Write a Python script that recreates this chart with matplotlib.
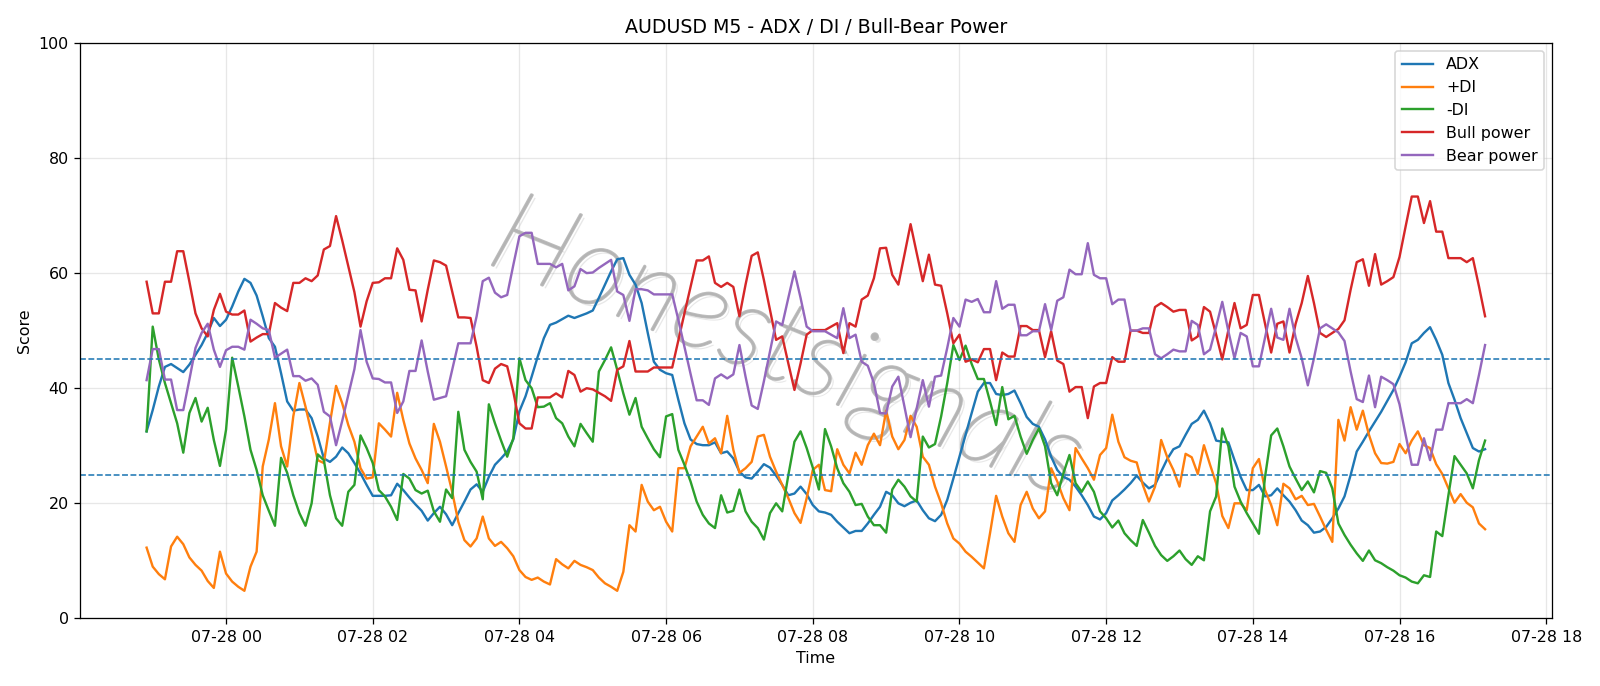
import matplotlib
matplotlib.use("Agg")
import matplotlib.pyplot as plt
import matplotlib.dates as mdates
import matplotlib.patheffects as pe
import pandas as pd
import numpy as np

start_time = "2025-07-27 22:55"
n_bars = 220

adx = [32.5, 36.2, 40.3, 43.7, 44.2, 43.5, 42.8, 44.1, 45.8, 47.5, 49.6, 52.2, 50.8, 51.9, 54.2, 56.8, 59, 58.3, 56.1, 52.5, 48.7, 47.2, 42.6, 37.7, 36.1, 36.3, 36.3, 34.8, 31.6, 27.8, 27.2, 28.1,
       29.7, 28.7, 27, 25.2, 23.2, 21.3, 21.3, 21.3, 21.4, 23.4, 22.3, 21, 19.8, 18.7, 17, 18.3, 19.4, 18.1, 16.2, 18.3, 20.3, 22.4, 23.3, 22, 24.6, 26.7, 27.8, 29, 31.1, 36,
       38.6, 42, 45.5, 48.7, 51, 51.4, 52, 52.6, 52.2, 52.6, 53, 53.5, 55.7, 58, 60.3, 62.4, 62.6, 59.7, 58, 54.8, 49.6, 44.6, 43.2, 42.6, 42.3, 38, 33.9, 31.1, 30.3, 30.1, 30.1,
       30.6, 28.7, 29, 27.8, 25.5, 24.5, 24.3, 25.5, 26.8, 26.2, 24.8, 23.2, 21.4, 21.7, 22.9, 21.6, 19.7, 18.6, 18.4, 18, 16.8, 15.8, 14.8, 15.2, 15.2, 16.5, 18, 19.4, 22, 21.4, 20,
       19.5, 20.1, 20.5, 18.8, 17.4, 16.9, 18, 20.6, 24.3, 28.1, 31.9, 35.7, 39.4, 40.9, 40.9, 39, 38.8, 39, 39.6, 37.4, 35, 33.8, 33.3, 31.1, 28.1, 25.8, 24.6, 24.1, 22.9, 21.4, 19.7,
       17.7, 17.2, 18.3, 20.5, 21.4, 22.4, 23.5, 24.8, 23.6, 22.6, 23.2, 25.5, 27.7, 29.4, 29.9, 31.9, 33.8, 34.5, 36.1, 33.9, 30.9, 30.7, 30.6, 27.5, 24.6, 22.3, 22.3, 23.2, 21.2, 21.4, 22.6,
       21.4, 20.3, 18.8, 17, 16.2, 14.9, 15.1, 15.9, 17.4, 19.1, 21.2, 24.9, 29, 30.7, 32.5, 34.2, 35.9, 37.8, 39.7, 42, 44.5, 47.8, 48.4, 49.6, 50.6, 48.4, 45.8, 40.9, 38, 34.8, 32.2, 29.6, 29, 29.4]

plus_di = [12.3, 9, 7.7, 6.8, 12.5, 14.2, 12.9, 10.6, 9.3, 8.3, 6.5, 5.3, 11.6, 7.8, 6.4, 5.5, 4.8, 9, 11.6, 26.4, 31.1, 37.4, 29.9, 26.4, 35.1, 40.9, 36.8, 32.2, 27.5, 27, 34, 40.4,
           37.4, 33.6, 30.7, 26.1, 24.3, 24.5, 33.9, 32.8, 31.6, 39.2, 34.5, 30.4, 27.8, 25.8, 23.5, 33.8, 30.7, 26.4, 22, 16.8, 13.6, 12.5, 13.9, 17.7, 13.9, 12.6, 13.3, 12.2, 10.8, 8.4,
           7.2, 6.7, 7.1, 6.4, 5.9, 10.3, 9.4, 8.7, 10, 9.3, 8.9, 8.4, 7.1, 6.1, 5.5, 4.8, 8.1, 16.2, 15.1, 23.2, 20.3, 18.8, 19.4, 16.8, 15.1, 26.1, 26.1, 29.9, 31.6, 33.3, 30.4,
           31.3, 28.7, 35.2, 29.3, 25.3, 26.1, 27.2, 31.6, 31.9, 28.1, 25.5, 23.2, 20.9, 18.3, 16.6, 20.9, 25.8, 26.7, 22.3, 22.1, 29.4, 26.7, 25.2, 28.8, 26.7, 30.1, 32.1, 30.1, 36.1, 31.6, 29.4,
           31, 35.2, 33.3, 28.1, 26.7, 22.9, 20, 16.5, 13.9, 13, 11.6, 10.7, 9.7, 8.7, 14.8, 21.3, 17.7, 14.8, 13.3, 19.7, 22, 19.1, 17.4, 18.6, 26.1, 23.8, 20.9, 18.8, 29.6, 27.8, 26.1,
           24.1, 28.4, 29.6, 35.4, 30.7, 28, 27.4, 27.1, 23.2, 20.3, 22.9, 31, 28, 25.8, 22.9, 28.6, 28, 25.1, 30.1, 26.7, 23.5, 17.8, 15.7, 20, 20, 18.8, 26.1, 27.7, 22.3, 19.7, 16.2,
           23.4, 22.6, 20.7, 21.3, 19.7, 19.9, 17.7, 15.4, 13.3, 34.5, 30.9, 36.7, 32.8, 36.1, 31.9, 28.7, 27, 26.9, 27.2, 30.3, 28.7, 30.9, 32.5, 30.1, 29.6, 26.8, 25.1, 22.6, 20.1, 21.6, 20.1, 19.3, 16.5, 15.5]

minus_di = [32.5, 50.7, 45, 40.9, 37.4, 33.9, 28.8, 35.7, 38.3, 34.2, 36.6, 31, 26.5, 32.8, 45.3, 40.3, 35.1, 29.3, 25.8, 21.4, 18.7, 16.1, 27.9, 25.3, 21.4, 18.3, 16.1, 20, 28.5, 27.5, 21.4, 17.4,
            16.1, 22, 23.2, 31.8, 29.6, 27, 22.3, 21.2, 19.4, 17.1, 25.1, 24.3, 22.3, 21.7, 22.2, 18.6, 16.8, 22.4, 20.9, 35.9, 29.3, 27.2, 25.5, 20.7, 37.2, 33.9, 30.9, 28.1, 31.3, 45.2,
            41.4, 40, 36.7, 36.8, 37.4, 34.8, 33.9, 31.6, 29.9, 33.8, 32.2, 30.7, 42.9, 44.9, 47.1, 43.2, 39.1, 35.4, 38.3, 33.3, 31.3, 29.4, 28, 35.1, 35.5, 29.3, 26.7, 23.8, 20.3, 18, 16.5,
            15.7, 21.4, 18.4, 18.7, 22.4, 18.6, 16.8, 15.7, 13.7, 18.3, 20, 18.6, 24.9, 30.7, 32.5, 29.6, 26.2, 22.4, 32.9, 29.9, 26.1, 23.5, 22, 19.7, 19.9, 17.7, 16.2, 16.2, 14.9, 22.4, 24.1,
            22.9, 21.2, 20.3, 31.6, 29.7, 30.3, 35.1, 40.9, 47.5, 44.9, 47.4, 44.2, 41.6, 41.6, 37.7, 33.6, 40.2, 34.6, 35.2, 31.6, 28.6, 31, 33, 29.9, 23.5, 21.4, 25.2, 28.4, 23.5, 22, 23.8,
            22, 18.6, 17.4, 15.8, 17, 14.8, 13.6, 12.6, 17.1, 14.9, 12.6, 11, 10, 10.8, 11.8, 10.3, 9.3, 10.8, 10.1, 18.6, 21.2, 33, 29.9, 22.9, 20.3, 18.3, 16.5, 14.7, 24.6, 31.8, 33,
            29.9, 26.4, 24.3, 22.3, 23.8, 21.9, 25.6, 25.3, 22.6, 16.5, 14.5, 12.8, 11.3, 10, 11.8, 10.1, 9.6, 8.9, 8.3, 7.5, 7.1, 6.4, 6.1, 7.5, 7.2, 15.1, 14.3, 21.4, 28.2, 26.7, 25.2, 22.6, 27.5, 30.9]

bull_power = [58.5, 53, 53, 58.5, 58.5, 63.8, 63.8, 58.5, 53, 50.4, 49, 53.6, 56.4, 53.3, 52.8, 52.8, 53.5, 48.1, 48.8, 49.4, 49.4, 54.8, 54, 53.4, 58.3, 58.3, 59.1, 58.6, 59.6, 64.1, 64.7, 69.9,
              65.7, 61.2, 56.7, 50.7, 55.1, 58.3, 58.4, 59.1, 59.1, 64.3, 62.3, 57.1, 57, 51.6, 57.1, 62.2, 61.9, 61.3, 56.8, 52.3, 52.3, 52.2, 47.2, 41.4, 40.9, 43.4, 44.2, 43.8, 39.4, 33.9,
              33, 33, 38.4, 38.4, 38.4, 39.1, 38.4, 43, 42.3, 39.4, 40, 39.8, 39.2, 38.6, 37.8, 43.2, 43.8, 48.2, 42.9, 42.9, 42.9, 43.6, 43.6, 43.6, 43.6, 48.3, 53, 57.6, 62.2, 62.2, 62.9,
              58.3, 57.6, 58.3, 57.6, 52.5, 58, 63, 63.6, 58.8, 53.6, 48.4, 49, 44.3, 39.7, 44.3, 49.3, 50.1, 50.1, 50.1, 50.7, 51.3, 46.1, 51.3, 50.7, 55.4, 56.1, 59.1, 64.3, 64.4, 59.7, 58,
              63.2, 68.5, 63.5, 58.6, 63.2, 58, 57.8, 53, 47.8, 49.3, 44.6, 45, 44.5, 46.8, 46.8, 41.4, 46.2, 45.5, 45.5, 50.8, 50.8, 50.1, 50.1, 45.4, 49.9, 44.8, 44.2, 39.4, 40.2, 40.2, 34.8,
              40.3, 40.9, 40.9, 45.4, 44.6, 44.6, 50, 50, 49.6, 49.6, 54.1, 54.8, 54.1, 53.3, 53.6, 53.6, 48.3, 49, 54.1, 53.3, 49.3, 45, 50.1, 54.8, 50.4, 51, 56.2, 56.2, 51.2, 46.2, 51.2,
              51.6, 46.2, 51.2, 54.8, 59.5, 54.8, 49.6, 48.9, 49.6, 50.3, 51.8, 57.1, 61.9, 62.4, 57.8, 63.3, 58, 58.6, 59.3, 62.8, 68.1, 73.3, 73.3, 68.7, 72.5, 67.2, 67.2, 62.6, 62.6, 62.6, 61.9, 62.6, 57.7, 52.5]

bear_power = [41.4, 46.8, 46.8, 41.5, 41.5, 36.2, 36.2, 41.5, 47, 49.6, 51.2, 46.7, 43.7, 46.6, 47.2, 47.2, 46.7, 51.9, 51.2, 50.4, 50.1, 45.3, 46, 46.7, 42.1, 42.1, 41.3, 41.7, 40.6, 35.9, 35.1, 30.1,
              34.3, 38.8, 43.3, 50.1, 44.6, 41.7, 41.6, 41, 41, 35.7, 37.7, 43, 43, 48.3, 42.9, 38, 38.3, 38.6, 43.2, 47.8, 47.8, 47.8, 52.5, 58.6, 59.2, 56.6, 55.8, 56.2, 61.4, 66.4,
              67, 67, 61.6, 61.6, 61.6, 61, 61.6, 57, 57.7, 60.7, 60, 60.1, 60.9, 61.6, 62.3, 56.8, 56.2, 51.7, 57.2, 57.2, 57, 56.3, 56.3, 56.3, 56.3, 51.9, 47.2, 42.5, 37.9, 37.9, 37.1,
              41.7, 42.4, 41.7, 42.4, 47.5, 42, 37, 36.4, 41.2, 46.4, 51.6, 51, 55.7, 60.3, 55.7, 50.7, 49.9, 49.9, 49.9, 49.3, 48.7, 53.9, 48.7, 49.3, 44.6, 43.9, 40.9, 35.7, 35.6, 40.3, 42,
              36.8, 31.5, 36.5, 41.4, 36.8, 42, 42.2, 47, 52.2, 50.7, 55.4, 55, 55.5, 53.2, 53.2, 58.6, 53.8, 54.5, 54.5, 49.2, 49.2, 49.9, 49.9, 54.6, 50.1, 55.2, 55.8, 60.6, 59.8, 59.8, 65.2,
              59.7, 59.1, 59.1, 54.6, 55.4, 55.4, 50, 50, 50.4, 50.4, 45.9, 45.2, 45.9, 46.7, 46.4, 46.4, 51.7, 51, 45.9, 46.7, 50.7, 55, 49.9, 45.2, 49.6, 49, 43.8, 43.8, 48.8, 53.8, 48.8,
              48.4, 53.8, 48.8, 45.2, 40.5, 45.2, 50.4, 51.1, 50.4, 49.7, 48.2, 42.9, 38.1, 37.6, 42.2, 36.7, 42, 41.4, 40.7, 37.2, 31.9, 26.7, 26.7, 31.3, 27.5, 32.8, 32.8, 37.4, 37.4, 37.4, 38.1, 37.4, 42.3, 47.5]

levels = [25, 45]
series_names = ["ADX", "+DI", "-DI", "Bull power", "Bear power"]

times = pd.date_range(start_time, periods=n_bars, freq="5min")

DPI = 1600 / 14
fig = plt.figure(figsize=(14, 686 / DPI), dpi=DPI)
ax = fig.add_axes([0.0498, 0.0985, 0.9202, 0.839])

for name, vals in zip(series_names, [adx, plus_di, minus_di, bull_power, bear_power]):
    ax.plot(times, vals, label=name, linewidth=1.5)

for lv in levels:
    ax.axhline(lv, linestyle="--", linewidth=1.0, color="C0")

ax.set_ylim(0, 100)
ax.grid(True, alpha=0.3)
ax.xaxis.set_major_locator(mdates.HourLocator(byhour=range(0, 24, 2)))
ax.xaxis.set_major_formatter(mdates.DateFormatter("%m-%d %H"))
ax.set_title("AUDUSD M5 - ADX / DI / Bull-Bear Power")
ax.set_xlabel("Time")
ax.set_ylabel("Score")
ax.legend(loc="upper right")

ax.text(0.48, 0.465, "Honestsignals", transform=ax.transAxes, fontsize=72,
        family=["Lato", "DejaVu Sans"], fontweight="light",
        color="#b4b4b4", alpha=0.9, rotation=-22, style="italic",
        ha="center", va="center", zorder=0,
        path_effects=[pe.withSimplePatchShadow(offset=(2, -2), shadow_rgbFace="#e2e2e2", alpha=0.8),
                      pe.Stroke(linewidth=1.6, foreground="#b4b4b4"), pe.Normal()])

fig.savefig("out.png", dpi=DPI)
